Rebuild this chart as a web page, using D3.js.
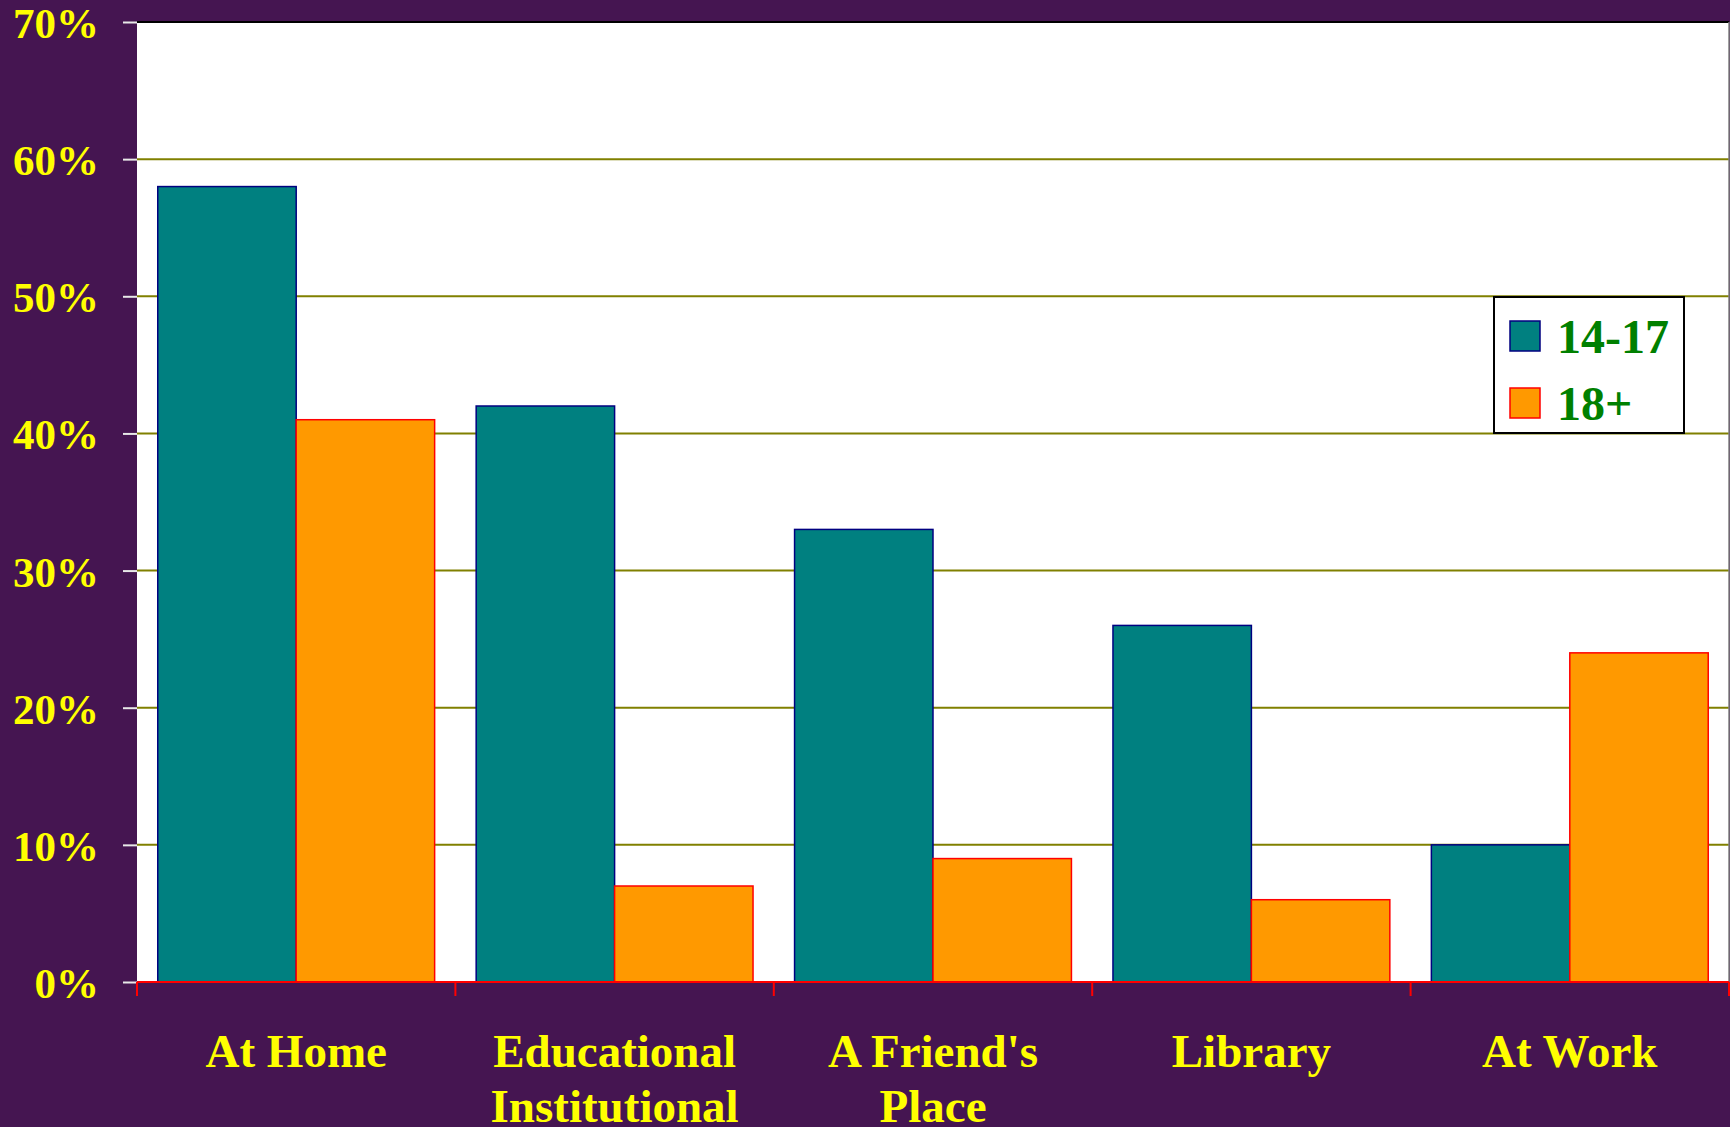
<!DOCTYPE html>
<html>
  <head>
    <meta charset="utf-8">
    <title>Where they go online</title>
    <script src="https://cdn.jsdelivr.net/npm/d3@7"></script>
    <style>
      html, body { margin: 0; padding: 0; background: #451551; }
      #chart { display: block; }
      text { font-family: "Liberation Serif", "Times New Roman", serif; font-weight: bold; }
    </style>
  </head>

  <body>
    <svg id="chart" width="1730" height="1127"></svg>

    <script>
      // data
      categories = [["At Home"], ["Educational", "Institutional"], ["A Friend's", "Place"], ["Library"], ["At Work"]];
      seriesNames = ["14-17", "18+"];
      teens = [58, 42, 33, 26, 10];
      adults = [41, 7, 9, 6, 24];
      yTicks = [0, 10, 20, 30, 40, 50, 60, 70];

      fills = ["#008080", "#FF9900"];
      strokes = ["#000080", "#FF0000"];

      // layout
      width = 1730;
      height = 1127;
      margin = { top: 22, right: 1, bottom: 145, left: 137 };

      chart = d3.select("#chart");

      keys = categories.map(function(d) { return d.join(" "); });
      x = d3.scaleBand()
        .domain(keys)
        .range([margin.left, width - margin.right])
        .paddingInner(0)
        .paddingOuter(0);
      inner = d3.scaleBand()
        .domain(seriesNames)
        .range([0, x.bandwidth()])
        .paddingOuter(0.15)
        .paddingInner(0);
      y = d3.scaleLinear()
        .domain([0, 70])
        .range([height - margin.bottom, margin.top]);

      // plot area
      chart.append("rect")
        .attr("x", margin.left)
        .attr("y", margin.top)
        .attr("width", width - margin.right - margin.left)
        .attr("height", y(0) - margin.top)
        .style("fill", "#ffffff");

      // gridlines
      chart.append("g")
        .selectAll("line")
          .data(yTicks.slice(1, -1))
        .enter().append("line")
          .attr("x1", margin.left)
          .attr("x2", width - margin.right)
          .attr("y1", function(d) { return y(d); })
          .attr("y2", function(d) { return y(d); })
          .style("stroke", "#808000")
          .style("stroke-width", 2);

      // top and right borders
      chart.append("line")
        .attr("x1", margin.left).attr("x2", width - margin.right)
        .attr("y1", margin.top).attr("y2", margin.top)
        .style("stroke", "#000000").style("stroke-width", 2);
      chart.append("line")
        .attr("x1", width - margin.right).attr("x2", width - margin.right)
        .attr("y1", margin.top).attr("y2", y(0))
        .style("stroke", "#808080").style("stroke-width", 1.5);

      // bars
      rows = keys.map(function(k, i) {
        return { key: k, values: [teens[i], adults[i]] };
      });
      groups = chart.append("g")
        .selectAll("g")
          .data(rows)
        .enter().append("g")
          .attr("transform", function(d) { return "translate(" + x(d.key) + ",0)"; });
      groups.selectAll("rect")
          .data(function(d) { return d.values.map(function(v, j) { return { s: j, v: v }; }); })
        .enter().append("rect")
          .attr("x", function(d) { return inner(seriesNames[d.s]); })
          .attr("width", inner.bandwidth())
          .attr("y", function(d) { return y(d.v); })
          .attr("height", function(d) { return y(0) - y(d.v); })
          .style("fill", function(d) { return fills[d.s]; })
          .style("stroke", function(d) { return strokes[d.s]; })
          .style("stroke-width", 1.5);

      // y axis
      yAxis = d3.axisLeft(y)
        .tickValues(yTicks)
        .tickSize(14)
        .tickPadding(24)
        .tickFormat(function(d) { return d + "%"; });
      yAxisGroup = chart.append("g")
        .attr("transform", "translate(" + margin.left + ",0)")
        .call(yAxis);
      yAxisGroup.select(".domain").remove();
      yAxisGroup.selectAll(".tick line").style("stroke", "#e8e8e8").style("stroke-width", 2);
      yAxisGroup.selectAll(".tick text")
        .style("fill", "#FFFF00")
        .style("font-size", "43px")
        .style("font-family", "'Liberation Serif', serif")
        .attr("dy", "0.36em");

      // x axis
      xTickPositions = keys.map(function(k) { return x(k); }).concat([width - margin.right]);
      chart.append("line")
        .attr("x1", margin.left).attr("x2", width - margin.right)
        .attr("y1", y(0)).attr("y2", y(0))
        .style("stroke", "#FF0000").style("stroke-width", 2);
      chart.append("g")
        .selectAll("line")
          .data(xTickPositions)
        .enter().append("line")
          .attr("x1", function(d) { return d; })
          .attr("x2", function(d) { return d; })
          .attr("y1", y(0))
          .attr("y2", y(0) + 14)
          .style("stroke", "#FF0000")
          .style("stroke-width", 2);

      labels = chart.append("g")
        .selectAll("text")
          .data(categories)
        .enter().append("text")
          .attr("text-anchor", "middle")
          .style("fill", "#FFFF00")
          .style("font-size", "47px");
      labels.each(function(lines, i) {
        d3.select(this).selectAll("tspan")
            .data(lines)
          .enter().append("tspan")
            .attr("x", x(keys[i]) + x.bandwidth() / 2)
            .attr("y", function(d, j) { return 1067 + j * 55; })
            .text(function(d) { return d; });
      });

      // legend
      legend = chart.append("g").attr("transform", "translate(1494,297)");
      legend.append("rect")
        .attr("width", 190)
        .attr("height", 136)
        .style("fill", "#ffffff")
        .style("stroke", "#000000")
        .style("stroke-width", 2);
      items = legend.selectAll(".item")
          .data(seriesNames)
        .enter().append("g")
          .attr("transform", function(d, i) { return "translate(16," + (24 + i * 67) + ")"; });
      items.append("rect")
        .attr("width", 30)
        .attr("height", 30)
        .style("fill", function(d, i) { return fills[i]; })
        .style("stroke", function(d, i) { return strokes[i]; })
        .style("stroke-width", 1.5);
      items.append("text")
        .attr("x", 47)
        .attr("y", 32)
        .style("fill", "#008000")
        .style("font-size", "48px")
        .text(function(d) { return d; });
    </script>
  </body>
</html>
